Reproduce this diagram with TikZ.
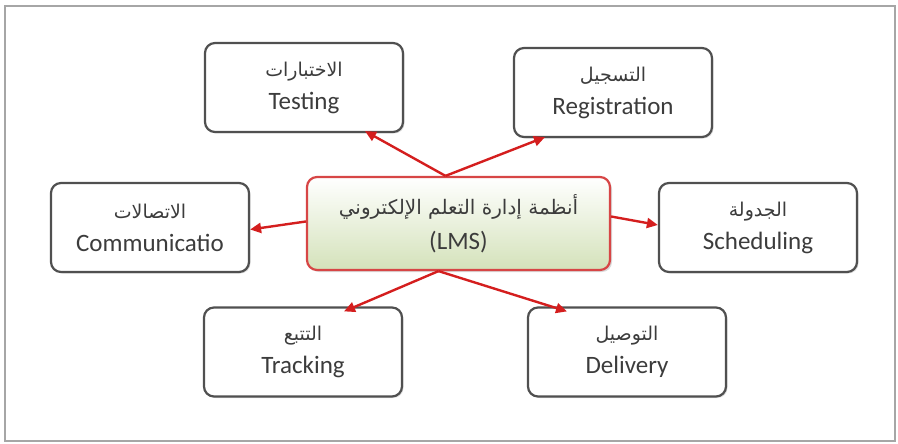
\documentclass[tikz,border=0pt]{standalone}
\usepackage{fontspec}
\setmainfont{Carlito}
\newfontfamily\arabicfont[Script=Arabic]{DejaVu Sans}
\TeXXeTstate=1
\usetikzlibrary{arrows.meta,shadows}
\definecolor{txt}{RGB}{60,60,60}
\definecolor{boxline}{RGB}{80,80,80}
\definecolor{arrred}{RGB}{212,30,30}
\definecolor{cline}{RGB}{215,70,70}
\definecolor{cgreen}{RGB}{212,226,186}
\tikzset{
  leaf/.style={draw=boxline, line width=2.2pt, rounded corners=10pt, fill=white,
    minimum width=198pt, minimum height=89pt, align=center, text=txt,
    font=\fontsize{25}{33}\selectfont, inner sep=0pt,
    drop shadow={shadow xshift=1.5pt, shadow yshift=-1.5pt, opacity=0.25}},
  hub/.style={draw=cline, line width=2.2pt, rounded corners=10pt,
    top color=white, bottom color=cgreen,
    minimum width=303pt, minimum height=93pt, align=center, text=txt,
    font=\fontsize{25}{35}\selectfont, inner sep=0pt,
    drop shadow={shadow xshift=2pt, shadow yshift=-2pt, opacity=0.3}},
  arr/.style={draw=arrred, line width=2.4pt, -{Triangle[length=11pt,width=10pt]}}
}
\newcommand{\ar}[1]{{\arabicfont\fontsize{19}{24}\selectfont\beginR #1\endR}}
\newcommand{\arc}[1]{{\arabicfont\fontsize{20}{24}\selectfont\beginR #1\endR}}
\begin{document}
\begin{tikzpicture}[x=1pt,y=-1pt]
\useasboundingbox (0,0) rectangle (898,444);
\draw[gray!70, line width=1.5pt] (5,6) rectangle (895,441);
\node[hub] (c) at (458.5,223.5) {\arc{أنظمة إدارة التعلم الإلكتروني}\\(LMS)};
\node[leaf] (t) at (304,87.5) {\ar{الاختبارات}\\Testing};
\node[leaf] (r) at (613,92.5) {\ar{التسجيل}\\Registration};
\node[leaf] (m) at (150,227.5) {\ar{الاتصالات}\\Communicatio};
\node[leaf] (s) at (758,227.5) {\ar{الجدولة}\\Scheduling};
\node[leaf] (k) at (303,352) {\ar{التتبع}\\Tracking};
\node[leaf] (d) at (627,352) {\ar{التوصيل}\\Delivery};
\draw[arr] ([xshift=-13pt]c.north) -- ([xshift=61pt,yshift=2pt]t.south);
\draw[arr] ([xshift=-13pt]c.north) -- ([xshift=-68pt,yshift=1pt]r.south);
\draw[arr] ([yshift=2pt]c.west) -- ([yshift=-2pt]m.east);
\draw[arr] ([yshift=7pt]c.east) -- ([yshift=2.5pt]s.west);
\draw[arr] ([xshift=-20pt]c.south) -- ([xshift=41pt,yshift=-5pt]k.north);
\draw[arr] ([xshift=-20pt]c.south) -- ([xshift=-60pt,yshift=-5pt]d.north);
\end{tikzpicture}
\end{document}
